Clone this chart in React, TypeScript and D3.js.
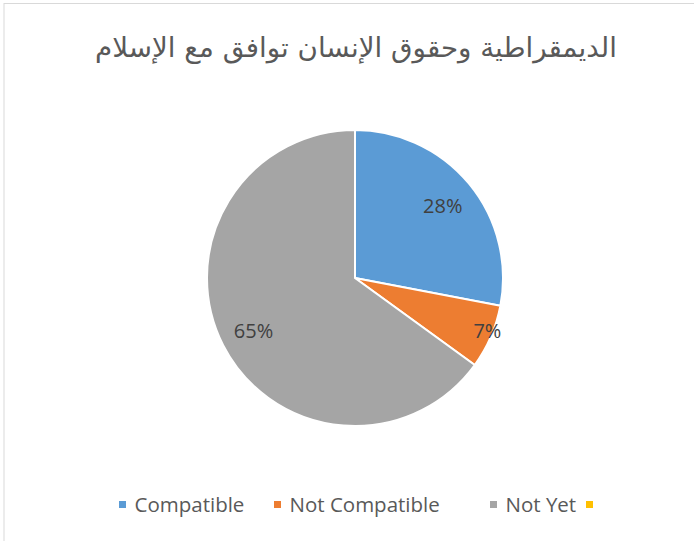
import React from "react";
import * as d3 from "d3";

const title = "الديمقراطية وحقوق الإنسان توافق مع الإسلام";
const categories = ["Compatible", "Not Compatible", "Not Yet", ""];
const values = [28, 7, 65, 0];
const colors = ["#5B9BD5", "#ED7D31", "#A5A5A5", "#FFC000"];

const W = 694;
const H = 541;
const cx = 355;
const cy = 278;
const R = 148;

export default function App() {
  const pie = d3.pie<number>().sort(null).value((d) => d);
  const arcs = pie(values);
  const arcGen = d3.arc<d3.PieArcDatum<number>>().innerRadius(0).outerRadius(R);
  const total = d3.sum(values);
  const fmt = (v: number) => `${Math.round((v / total) * 100)}%`;

  const legendX = [119, 274, 490, 586];

  return (
    <svg
      width={W}
      height={H}
      style={{ position: "absolute", left: 0, top: 0, background: "#fff" }}
    >
      <rect x={4} y={3.5} width={W + 10} height={H + 10} fill="#fff" stroke="#D9D9D9" strokeWidth={1} />
      <text
        x={356}
        y={57}
        textAnchor="middle"
        fontFamily="DejaVu Sans"
        fontSize={27}
        fill="#595959"
        direction="rtl"
        textLength={522}
        lengthAdjust="spacingAndGlyphs"
      >
        {title}
      </text>
      <g transform={`translate(${cx},${cy})`}>
        {arcs.map((a, i) => (
          <path key={i} d={arcGen(a) || ""} fill={colors[i]} stroke="#fff" strokeWidth={2} />
        ))}
        {arcs.map((a, i) => {
          if (a.value <= 0) return null;
          const span = a.endAngle - a.startAngle;
          const r = span < 0.5 ? R * 0.96 : R * 0.77;
          const mid = (a.startAngle + a.endAngle) / 2;
          const x = Math.sin(mid) * r;
          const y = -Math.cos(mid) * r;
          return (
            <text
              key={i}
              x={x + (span < 0.5 ? 2 : 0)}
              y={y + (span < 0.5 ? -3 : 1)}
              dy="0.35em"
              textAnchor="middle"
              fontFamily="'Open Sans', sans-serif"
              fontSize={20}
              fill="#404040"
            >
              {fmt(a.value)}
            </text>
          );
        })}
      </g>
      <g>
        {categories.map((c, i) => (
          <g key={i} transform={`translate(${legendX[i]},505)`}>
            <rect x={0} y={-4} width={7} height={7} fill={colors[i]} />
            <text
              x={15.5}
              y={0}
              dy="0.35em"
              fontFamily="'Open Sans', sans-serif"
              fontSize={20.5}
              fill="#595959"
            >
              {c}
            </text>
          </g>
        ))}
      </g>
    </svg>
  );
}
